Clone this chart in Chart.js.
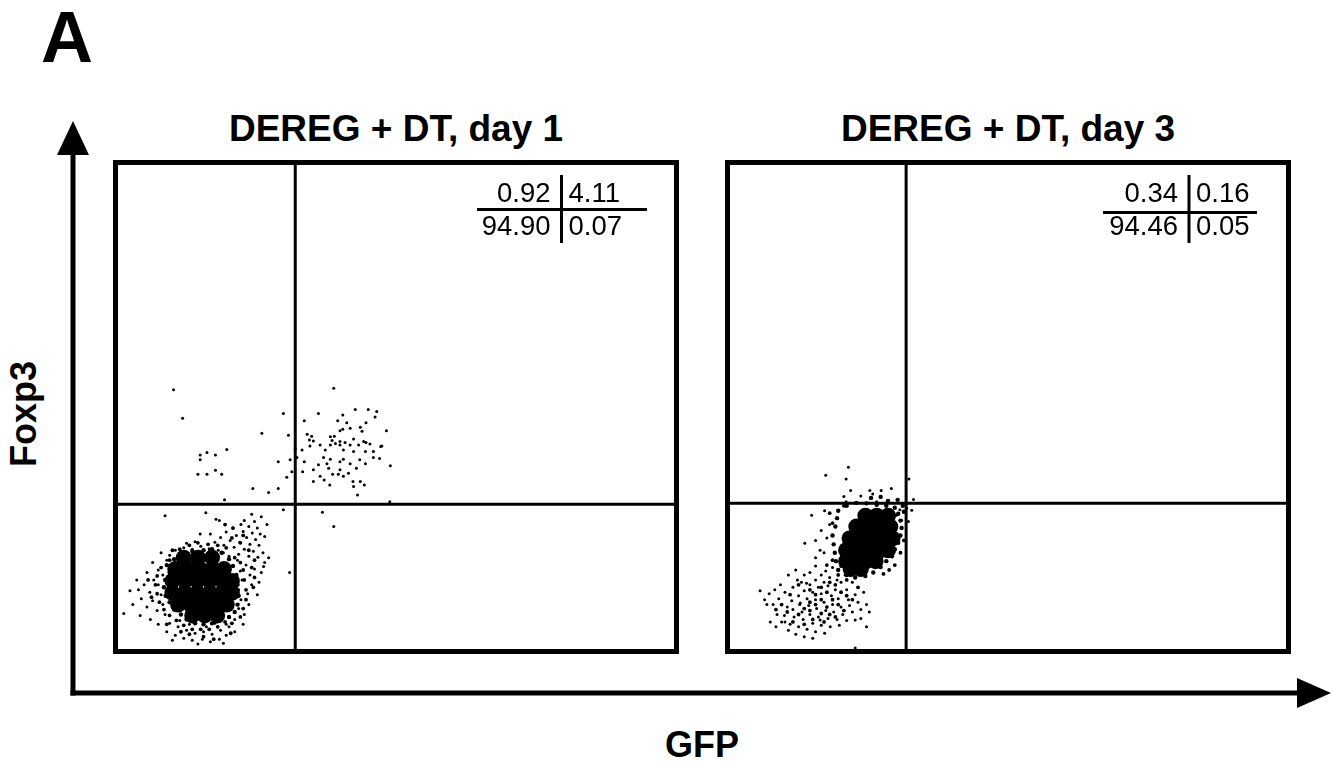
<!DOCTYPE html>
<html>
<head>
<meta charset="utf-8">
<script src="https://cdn.jsdelivr.net/npm/chart.js@4.4.1/dist/chart.umd.min.js"></script>
<style>
  html, body { margin: 0; padding: 0; background: #fff; }
  body { width: 1333px; height: 761px; position: relative; overflow: hidden;
         font-family: "Liberation Sans", Arial, sans-serif; color: #000; }
  .txt { position: absolute; white-space: nowrap; font-weight: bold; }
  .panel { position: absolute; top: 160px; width: 566px; height: 494px; }
</style>
</head>
<body>
<div class="txt" style="left:41px; top:1px; font-size:72px; line-height:72px;">A</div>
<div class="txt" style="left:196px; top:110px; width:400px; text-align:center; font-size:37px; line-height:37px;">DEREG + DT, day 1</div>
<div class="txt" style="left:808px; top:110px; width:400px; text-align:center; font-size:37px; line-height:37px;">DEREG + DT, day 3</div>
<div class="txt" style="left:602px; top:727px; width:200px; text-align:center; font-size:36px; line-height:36px;">GFP</div>
<div class="txt" style="left:-76px; top:396px; width:200px; text-align:center; font-size:36px; line-height:36px; transform:rotate(-90deg);">Foxp3</div>

<svg width="1333" height="761" style="position:absolute; left:0; top:0;">
  <line x1="73" y1="150" x2="73" y2="695.5" stroke="#000" stroke-width="5"/>
  <polygon points="57,155 89,155 73,121" fill="#000"/>
  <line x1="70.5" y1="693" x2="1300" y2="693" stroke="#000" stroke-width="5"/>
  <polygon points="1297,678 1297,708 1331,693" fill="#000"/>
</svg>

<div class="panel" style="left:113px;"><canvas id="day1"></canvas></div>
<div class="panel" style="left:725px;"><canvas id="day3"></canvas></div>

<script>
// fluorescence channels, 0-1000 on both axes (GFP across, Foxp3 up)
const gateDay1 = [322, 303];
const gateDay3 = [320, 305];
const quadDay1 = ['0.92', '4.11', '94.90', '0.07'];
const quadDay3 = ['0.34', '0.16', '94.46', '0.05'];

// day 1: dense Foxp3- core, its halo and the GFP+Foxp3+ cells
const day1Core = [
  [125,195],[150,195],[175,195],
  [110,172],[132,172],[154,172],[176,172],[196,172],
  [105,148],[127,148],[149,148],[171,148],[193,148],[210,148],
  [105,124],[127,124],[149,124],[171,124],[193,124],[210,124],
  [115,100],[137,100],[159,100],[181,100],[201,100],
  [140,78],[162,78],[184,78]
];
const day1Ring = [
  [95,180],[100,165],[92,150],[90,135],[93,118],[100,105],[108,90],[120,80],[130,70],
  [145,62],[160,60],[175,62],[190,68],[205,75],[215,85],[220,100],[222,118],[220,140],
  [218,160],[212,178],[205,192],[192,205],[175,212],[160,210],[140,208],[120,200],[108,192]
];
const day1Ring2 = [
  [85,175],[78,158],[75,140],[78,122],[82,105],[90,90],[100,78],[112,68],[125,58],[140,50],
  [155,50],[170,50],[185,55],[198,65],[210,62],[225,75],[230,92],[235,110],[235,130],
  [232,150],[230,170],[225,185],[215,195],[200,215],[185,220],[168,222],[150,225],[135,220],
  [118,212],[100,190],[105,210],[240,210],[225,225],[210,235],[250,190],[245,175],[250,155],
  [248,135],[62,150],[68,115],[95,60],[120,45],[178,30],[208,42],[160,35],[135,40],
  [212,255],[198,262],[230,240]
];
const day1Halo = [
  [245,283],[262,278],[232,270],[250,268],[226,262],[240,258],[255,255],[212,255],[230,248],
  [246,245],[260,243],[200,247],[218,240],[236,236],[252,232],[190,236],[207,230],[224,226],
  [242,222],[258,220],[180,226],[196,220],[214,216],[232,212],[248,208],[170,213],[186,210],
  [222,202],[240,198],[256,196],[164,286],[188,270],[272,262],[268,238],[92,280],[182,273],
  [172,243],[154,243],[130,224],[145,227],
  [85,205],[95,190],[70,185],[80,170],[60,165],[88,160],[72,150],[55,140],[80,140],[45,130],
  [65,125],[85,120],[50,112],[70,108],[88,100],[60,95],[78,88],[92,80],[42,150],[30,128],
  [35,100],[19,82],[48,78],[66,70],[80,60],
  [220,190],[235,180],[225,168],[242,160],[228,150],[245,140],[222,130],[238,122],[226,110],
  [240,100],[222,92],[232,80],[215,70],[250,172],[262,165],[258,145],[268,185],[265,205],
  [255,120],[230,60],[312,165],[275,195],[266,177],
  [100,62],[115,55],[130,48],[145,42],[160,45],[175,40],[190,48],[205,55],[95,45],[110,38],
  [125,32],[140,28],[158,30],[172,25],[188,30],[200,38],[215,45],[118,68],[200,60],[150,20],
  [165,55],[135,60],[180,62],[105,28],[195,22],
  [110,210],[125,215],[140,212],[155,218],[170,208],[100,200],[195,205],[205,198]
];
const day1Upper = [
  [107,535],[123,477],[154,403],[166,408],[181,403],[154,393],[150,364],[166,364],[181,372],
  [192,364],[201,414],[263,447],[301,487],[247,335],[275,327],[292,335],[307,358],[316,369],
  [313,393],[292,389],[310,443],[322,416],[197,312],[325,398],
  [390,538],[338,472],[363,487],[406,484],[428,495],[451,495],[466,491],[463,480],[397,472],
  [413,468],[447,468],[343,445],[351,441],[347,433],[354,431],[384,440],[391,441],[401,452],
  [406,455],[419,457],[437,459],[440,451],[483,452],[387,432],[393,426],[401,430],[410,428],
  [425,435],[443,430],[447,428],[454,425],[475,421],[348,421],[366,423],[384,423],[401,423],
  [419,423],[434,423],[334,413],[375,413],[407,413],[425,410],[446,410],[460,410],[338,389],
  [372,398],[384,394],[407,394],[436,393],[460,398],[471,396],[363,383],[378,385],[401,389],
  [419,385],[446,385],[490,381],[354,373],[381,376],[401,373],[430,376],[335,369],[366,360],
  [388,364],[398,364],[407,360],[416,366],[373,352],[354,349],[424,349],[437,349],[383,342],
  [425,339],[444,342],[432,322],[473,420],[489,308],
  [370,287],[390,258],[301,292]
];

// day 3: GFP+ cells gone, Foxp3- core shifted with a tail to low values
const day3Core = [
  [248,280],[268,280],[288,280],
  [232,258],[252,258],[272,258],[292,258],
  [220,234],[240,234],[260,234],[280,234],[296,234],
  [214,210],[234,210],[254,210],[274,210],[288,210],
  [214,188],[232,188],[250,188],[266,188],
  [222,172],[240,172]
];
const day3Ring = [
  [200,290],[215,300],[232,306],[250,305],[268,302],[285,300],[300,296],[306,284],[310,270],
  [312,255],[310,240],[306,225],[300,212],[295,198],[285,188],[275,176],[262,165],[248,158],
  [230,155],[215,160],[200,170],[196,188],[194,205],[192,222],[190,240],[195,258],[198,275],
  [288,310],[305,312],[275,318],[258,316],[314,300],[316,288]
];
const day3Ring2 = [
  [190,190],[180,180],[200,160],[185,145],[170,135],[195,140],[205,125],[180,125],[160,120],
  [215,118],[190,110],[170,110],[150,105],[200,100],[180,95],[160,100],[140,92],[210,88],
  [185,80],[170,82],[150,88],[130,80],[195,75],[175,65],[155,70],[140,60],[120,65],[110,85],
  [225,110],[235,135],[215,150],[220,175],[205,178],[150,130],[130,140],[115,120],[100,100],
  [90,90],[210,300],[190,265],[185,285],[300,180],[290,170],[310,205],[316,230],[280,162]
];
const day3Tail = [
  [309,292],[303,281],[312,271],[321,295],[330,291],[324,268],
  [190,175],[178,168],[185,155],[170,160],[198,150],[175,145],[160,150],[165,135],[182,138],
  [195,130],[205,145],[212,160],[150,140],[155,125],[170,122],[188,118],[200,112],[215,130],
  [225,145],[230,120],[218,110],[140,128],[145,112],[160,110],[175,105],[190,100],[205,95],
  [220,98],[235,105],[130,118],[132,100],[148,98],[162,92],[178,88],[192,85],[208,80],
  [225,85],[240,90],[118,108],[120,90],[136,85],[150,80],[165,75],[182,72],[198,70],
  [215,68],[230,69],[110,95],[105,78],[122,75],[138,70],[155,62],[170,58],[186,55],
  [202,58],[100,65],[115,60],[130,55],[145,50],[160,45],[176,42],[92,80],[85,100],
  [95,112],[106,125],[120,135],[135,145],[150,165],[160,178],[140,160],[128,150],[78,122],
  [74,100],[80,65],[106,65],[168,69],[133,103],[144,143],[168,210],[153,281],[141,224],
  [160,195],[175,205],[125,170],[112,160],[98,140],[88,130],[70,110],[62,128],[90,55],
  [125,40],[140,35],[155,32],[112,48],[230,12],[250,55],[240,72],[255,85],[250,100],
  [245,125],[160,230],[180,235],[170,250],[185,262],[176,290],[240,320]
];
const day3Upper = [
  [218,378],[178,362],[214,354],[222,331],[210,319],[256,331],[261,324],[276,331],[294,335],
  [268,308],[325,354],[333,313],[214,308]
];

const toXY = (pts) => pts.map(([x, y]) => ({ x, y }));

function dots(pts, r) {
  return {
    data: toXY(pts),
    backgroundColor: '#000',
    borderWidth: 0,
    pointRadius: r,
    pointHoverRadius: r,
  };
}

// frame, quadrant gates and the percentage table
const flowFrame = {
  id: 'flowFrame',
  afterDatasetsDraw(chart, args, opts) {
    const { ctx, chartArea: a, scales } = chart;
    const gx = scales.x.getPixelForValue(opts.gate[0]);
    const gy = scales.y.getPixelForValue(opts.gate[1]);
    ctx.save();
    ctx.strokeStyle = '#000';
    ctx.lineWidth = 3;
    ctx.beginPath();
    ctx.moveTo(gx, a.top); ctx.lineTo(gx, a.bottom);
    ctx.moveTo(a.left, gy); ctx.lineTo(a.right, gy);
    ctx.stroke();
    ctx.lineWidth = 5;
    ctx.strokeRect(a.left + 2.5, a.top + 2.5, a.width - 5, a.height - 5);

    const t = opts.table;
    ctx.lineWidth = 3;
    ctx.beginPath();
    ctx.moveTo(t.vx, 15); ctx.lineTo(t.vx, 83);
    ctx.moveTo(t.h0, t.hy); ctx.lineTo(t.h1, t.hy);
    ctx.stroke();
    ctx.font = '27.5px "Liberation Sans", Arial, sans-serif';
    ctx.fillStyle = '#000';
    ctx.textBaseline = 'alphabetic';
    ctx.textAlign = 'right';
    ctx.fillText(opts.quad[0], t.vx - 11, 42);
    ctx.fillText(opts.quad[2], t.vx - 11, 75);
    ctx.textAlign = 'left';
    ctx.fillText(opts.quad[1], t.vx + 7, 42);
    ctx.fillText(opts.quad[3], t.vx + 7, 75);
    ctx.restore();
  },
};

function dotPlot(id, sets, gate, quad, table) {
  return new Chart(document.getElementById(id), {
    type: 'scatter',
    data: {
      datasets: sets.map(([pts, r]) => dots(pts, r)),
    },
    options: {
      responsive: true,
      maintainAspectRatio: false,
      animation: false,
      layout: { padding: 0, autoPadding: false },
      scales: {
        x: { type: 'linear', min: 0, max: 1000, display: false },
        y: { type: 'linear', min: 0, max: 1000, display: false },
      },
      plugins: {
        legend: { display: false },
        tooltip: { enabled: false },
        flowFrame: { gate, quad, table },
      },
    },
    plugins: [flowFrame],
  });
}

dotPlot('day1',
  [[day1Core, 8], [day1Ring, 2.2], [day1Ring2, 1.9], [day1Halo, 1.5], [day1Upper, 1.5]],
  gateDay1, quadDay1, { vx: 448.5, hy: 49.5, h0: 364, h1: 534 });
dotPlot('day3',
  [[day3Core, 8], [day3Ring, 2.2], [day3Ring2, 1.9], [day3Tail, 1.5], [day3Upper, 1.5]],
  gateDay3, quadDay3, { vx: 464, hy: 52.5, h0: 378, h1: 532 });
</script>
</body>
</html>
